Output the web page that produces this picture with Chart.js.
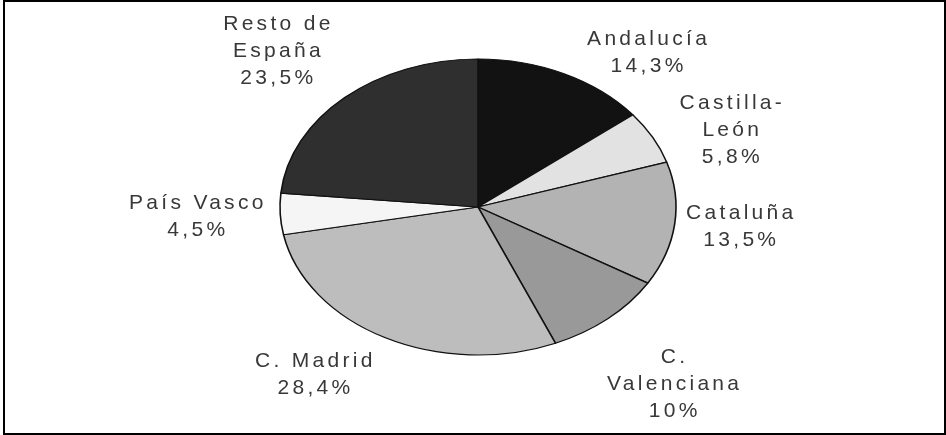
<!DOCTYPE html>
<html>
<head>
<meta charset="utf-8">
<script src="https://cdn.jsdelivr.net/npm/chart.js@4"></script>
<style>
html,body{margin:0;padding:0;background:#fff;}
#wrap{position:relative;width:946px;height:435px;}
canvas{position:absolute;left:0;top:0;}
</style>
</head>
<body>
<div id="wrap"><canvas id="c" width="946" height="435"></canvas></div>
<script>
// ---- data ----
const categories = ['Andalucía', 'Castilla-León', 'Cataluña', 'C. Valenciana', 'C. Madrid', 'País Vasco', 'Resto de España'];
const values = [14.3, 5.8, 13.5, 10, 28.4, 4.5, 23.5];
const labelLines = [['Andalucía'], ['Castilla-', 'León'], ['Cataluña'], ['C.', 'Valenciana'], ['C. Madrid'], ['País Vasco'], ['Resto de', 'España']];

// ---- styles / layout ----
const sliceColors = ['#121212', '#e2e2e2', '#b3b3b3', '#999999', '#bdbdbd', '#f5f5f5', '#2f2f2f'];
const ellipseRatio = 148 / 198;
// label block centre offset (px) from the slice's outer edge at mid-angle
const labelOffsets = [[83, -21], [78, -7], [65, 3], [65, 66], [-71, 37], [-84, 3], [-68, -46.5]];

function pct(v) { return String(v).replace('.', ',') + '%'; }

const ellipsePlugin = {
  id: 'ellipse',
  beforeDatasetsDraw(chart) {
    const el = chart.getDatasetMeta(0).data[0];
    const ctx = chart.ctx;
    ctx.save();
    ctx.translate(el.x, el.y);
    ctx.scale(1, ellipseRatio);
    ctx.translate(-el.x, -el.y);
  },
  afterDatasetsDraw(chart) {
    chart.ctx.restore();
  },
  afterDraw(chart) {
    const ctx = chart.ctx;
    const meta = chart.getDatasetMeta(0);
    ctx.save();
    ctx.fillStyle = '#383838';
    ctx.font = '21px "Liberation Sans", Arial, sans-serif';
    ctx.textAlign = 'center';
    ctx.textBaseline = 'middle';
    if ('letterSpacing' in ctx) ctx.letterSpacing = '3.3px';
    const lh = 27;
    meta.data.forEach((arc, i) => {
      const mid = (arc.startAngle + arc.endAngle) / 2;
      const R = arc.outerRadius;
      const ex = arc.x + R * Math.cos(mid);
      const ey = arc.y + R * ellipseRatio * Math.sin(mid);
      const lines = labelLines[i].concat([pct(values[i])]);
      const bx = ex + labelOffsets[i][0];
      const by = ey + labelOffsets[i][1];
      const y0 = by - (lines.length - 1) * lh / 2;
      lines.forEach((t, j) => ctx.fillText(t, bx + 1.65, y0 + j * lh));
    });
    ctx.restore();
    // frame
    ctx.save();
    ctx.strokeStyle = '#000';
    ctx.lineWidth = 2;
    ctx.strokeRect(4, 1, 941, 433);
    ctx.restore();
  }
};

new Chart(document.getElementById('c'), {
  type: 'pie',
  data: {
    labels: categories,
    datasets: [{
      data: values,
      backgroundColor: sliceColors,
      borderColor: '#111',
      borderWidth: 1.6,
      radius: 198
    }]
  },
  options: {
    responsive: false,
    devicePixelRatio: 1,
    animation: false,
    layout: { padding: { left: 10, right: 0, top: 0, bottom: 21 } },
    plugins: { legend: { display: false }, tooltip: { enabled: false } }
  },
  plugins: [ellipsePlugin]
});
</script>
</body>
</html>
